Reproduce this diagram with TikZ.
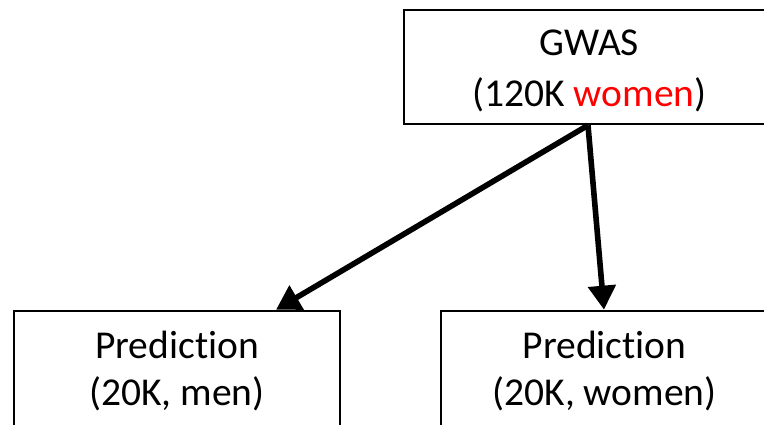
\documentclass[tikz,border=0pt]{standalone}
\usepackage{fontspec}
\setmainfont{Carlito}[Ligatures={NoCommon,NoRare,NoContextual}]
\usetikzlibrary{arrows.meta,calc}
\begin{document}
\begin{tikzpicture}[x=1pt,y=-1pt,
  box/.style={draw=black,line width=2.6pt,inner sep=0pt},
  txt/.style={anchor=base,inner sep=0pt,font=\fontsize{39.5}{48}\selectfont},
  conn/.style={line width=5.6pt,-{Triangle[length=24pt,width=27pt]}}]
\useasboundingbox (0,0) rectangle (764,424);
\node[box,minimum width=386pt,minimum height=114pt] (gwas) at (597,67) {};
\node[box,minimum width=326pt,minimum height=130pt] (pl) at (177,376) {};
\node[box,minimum width=340pt,minimum height=130pt] (pr) at (611,376) {};
\node[txt] (g1) at (589.5,55) {GWAS};
\node[txt] (g2) at (589.5,106) {(120K \textcolor{red}{women})};
\node[txt] (l1) at (177,358) {Prediction};
\node[txt] (l2) at (177,405) {(20K, men)};
\node[txt] (r1) at (604.5,358) {Prediction};
\node[txt] (r2) at (604.5,405) {(20K, women)};
\coordinate (s) at ($(gwas.south)+(-9,0)$);
\coordinate (le) at ($(pl.north)+(99,0)$);
\coordinate (re) at ($(pr.north)+(-7,0)$);
\draw[conn] (s) -- (le);
\draw[conn] (s) -- (re);
\end{tikzpicture}
\end{document}
